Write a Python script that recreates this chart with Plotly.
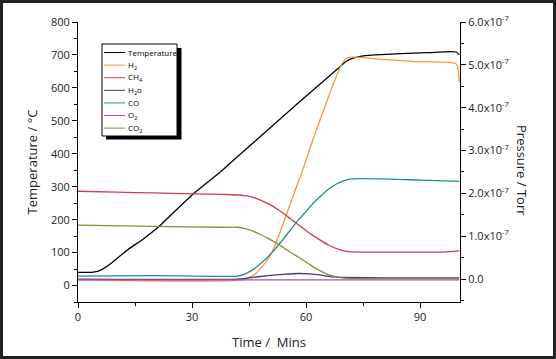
import plotly.graph_objects as go

# ---- data (pressures in units of 1e-7 Torr) ----
temp_t = [0, 4, 6, 9, 13, 17, 21, 30, 38, 40, 58, 69, 70.5, 72, 74, 78, 85, 92, 99.5, 100.3]
temp_v = [40, 41, 47, 70, 108, 140, 176, 275, 350, 371, 555, 665, 680, 689, 695, 700, 704, 707, 709, 700]

h2_t = [0, 43, 46, 49, 51, 53, 55, 57, 59, 62, 66, 69, 70.5, 72, 80, 90, 99.5, 100.3]
h2_v = [-0.02, -0.02, 0.08, 0.35, 0.62, 1.05, 1.55, 2.04, 2.52, 3.3, 4.28, 4.95, 5.15, 5.18, 5.13, 5.07, 5.02, 4.6]

ch4_t = [0, 10, 20, 30, 40, 44, 47, 50, 53, 56, 60, 63, 66, 69, 71, 75, 85, 95, 100.3]
ch4_v = [2.05, 2.03, 2.01, 1.99, 1.97, 1.95, 1.88, 1.76, 1.60, 1.40, 1.13, 0.95, 0.79, 0.68, 0.64, 0.63, 0.63, 0.63, 0.66]

h2o_t = [0, 42, 46, 50, 54, 58, 61, 64, 67, 70, 80, 100.3]
h2o_v = [0.0, 0.0, 0.04, 0.08, 0.11, 0.13, 0.12, 0.09, 0.05, 0.04, 0.03, 0.03]

co_t = [0, 20, 42, 44, 46, 48, 50, 52, 54, 56, 58, 60, 62, 64, 66, 68, 70, 72, 80, 90, 100.3]
co_v = [0.07, 0.08, 0.07, 0.12, 0.22, 0.36, 0.52, 0.72, 0.93, 1.16, 1.38, 1.58, 1.78, 1.95, 2.1, 2.22, 2.30, 2.34, 2.34, 2.31, 2.28]

o2_t = [0, 30, 60, 100.3]
o2_v = [-0.02, -0.02, -0.02, -0.02]

co2_t = [0, 20, 38, 42, 44, 46, 48, 50, 52, 54, 56, 58, 60, 62, 64, 66, 68, 70, 72, 80, 100.3]
co2_v = [1.26, 1.23, 1.21, 1.21, 1.18, 1.12, 1.04, 0.95, 0.85, 0.74, 0.62, 0.51, 0.40, 0.28, 0.18, 0.10, 0.05, 0.02, 0.01, 0.01, 0.01]

x_ticks = [0, 30, 60, 90]
p_tickvals = [0, 1, 2, 3, 4, 5, 6]
p_ticktext = ["0.0"] + [f"{v}.0x10<sup>-7</sup>" for v in p_tickvals[1:]]

temp_name = "Temperature"
temp_color = "black"
gases = [
    ("H<sub>2</sub>", h2_t, h2_v, "#f2974a"),
    ("CH<sub>4</sub>", ch4_t, ch4_v, "#d13a52"),
    ("H<sub>2</sub>o", h2o_t, h2o_v, "#3d3d8c"),
    ("CO", co_t, co_v, "#2c8a8c"),
    ("O<sub>2</sub>", o2_t, o2_v, "#b04ca4"),
    ("CO<sub>2</sub>", co2_t, co2_v, "#8c8d3c"),
]

FONT = "Open Sans"
W, H = 556, 359
L, R, T, B = 78, 96, 22, 57
pw, ph = W - L - R, H - T - B

fig = go.Figure()
fig.add_trace(go.Scatter(x=temp_t, y=temp_v, name=temp_name, mode="lines", showlegend=False,
                         line=dict(color=temp_color, width=1.3, shape="spline", smoothing=0.6)))
for name, t, v, c in gases:
    fig.add_trace(go.Scatter(x=t, y=[p * 1e-7 for p in v], name=name, mode="lines", yaxis="y2",
                             showlegend=False,
                             line=dict(color=c, width=1.3, shape="spline", smoothing=0.6)))

def px_x(p):
    return (p - L) / pw

def px_y(p):
    return (H - B - p) / ph

axis_common = dict(showline=True, linecolor="black", linewidth=1, showgrid=False, zeroline=False,
                   ticks="outside", ticklen=5, tickwidth=1, tickcolor="black",
                   tickfont=dict(family=FONT, size=11, color="#222"))

shapes = [
    # legend shadow
    dict(type="rect", xref="paper", yref="paper",
         x0=px_x(106), x1=px_x(181.5), y0=px_y(139.5), y1=px_y(48),
         fillcolor="black", line=dict(width=0), layer="above"),
    # legend box
    dict(type="rect", xref="paper", yref="paper",
         x0=px_x(102), x1=px_x(177), y0=px_y(136), y1=px_y(44),
         fillcolor="white", line=dict(color="black", width=1), layer="above"),
    # outer frame
    dict(type="rect", xref="paper", yref="paper",
         x0=px_x(1.5), x1=px_x(554.5), y0=px_y(357.5), y1=px_y(1.5),
         line=dict(color="#222", width=3), fillcolor="rgba(0,0,0,0)", layer="above"),
]
annotations = [
    dict(text="Pressure / Torr", textangle=90, xref="paper", yref="paper",
         x=px_x(522), y=px_y(170), xanchor="center", yanchor="middle", showarrow=False,
         font=dict(family=FONT, size=13, color="#222")),
]

legend_items = [(temp_name, temp_color)] + [(g[0], g[3]) for g in gases]
for i, (name, color) in enumerate(legend_items):
    yc = 52.5 + i * 12.6
    shapes.append(dict(type="line", xref="paper", yref="paper",
                       x0=px_x(104), x1=px_x(125), y0=px_y(yc), y1=px_y(yc),
                       line=dict(color=color, width=1), layer="above"))
    annotations.append(dict(text=name, xref="paper", yref="paper", x=px_x(126), y=px_y(yc),
                            xanchor="left", yanchor="middle", showarrow=False,
                            font=dict(family=FONT, size=8, color="black")))

fig.update_layout(
    width=W, height=H,
    margin=dict(l=L, r=R, t=T, b=B),
    paper_bgcolor="white", plot_bgcolor="white",
    font=dict(family=FONT, color="#222"),
    showlegend=False,
    hovermode=False,
    xaxis=dict(range=[0, 100.5], tickvals=x_ticks,
               minor=dict(dtick=15, tick0=0, ticks="outside", ticklen=3, tickcolor="black"),
               title=dict(text="Time /  Mins", font=dict(family=FONT, size=13), standoff=14),
               **axis_common),
    yaxis=dict(range=[-50, 800], dtick=100, tick0=0,
               minor=dict(dtick=50, tick0=0, ticks="outside", ticklen=3, tickcolor="black"),
               title=dict(text="Temperature / °C", font=dict(family=FONT, size=13), standoff=10),
               **axis_common),
    yaxis2=dict(range=[-0.535e-7, 6.0e-7], overlaying="y", side="right", anchor="x",
                tickvals=[v * 1e-7 for v in p_tickvals], ticktext=p_ticktext,
                minor=dict(dtick=0.5e-7, tick0=0, ticks="outside", ticklen=3, tickcolor="black"),
                **axis_common),
    shapes=shapes,
    annotations=annotations,
)

fig.write_html("out.html", config={"displayModeBar": False, "staticPlot": True},
               post_script="document.body.style.margin='0';")
